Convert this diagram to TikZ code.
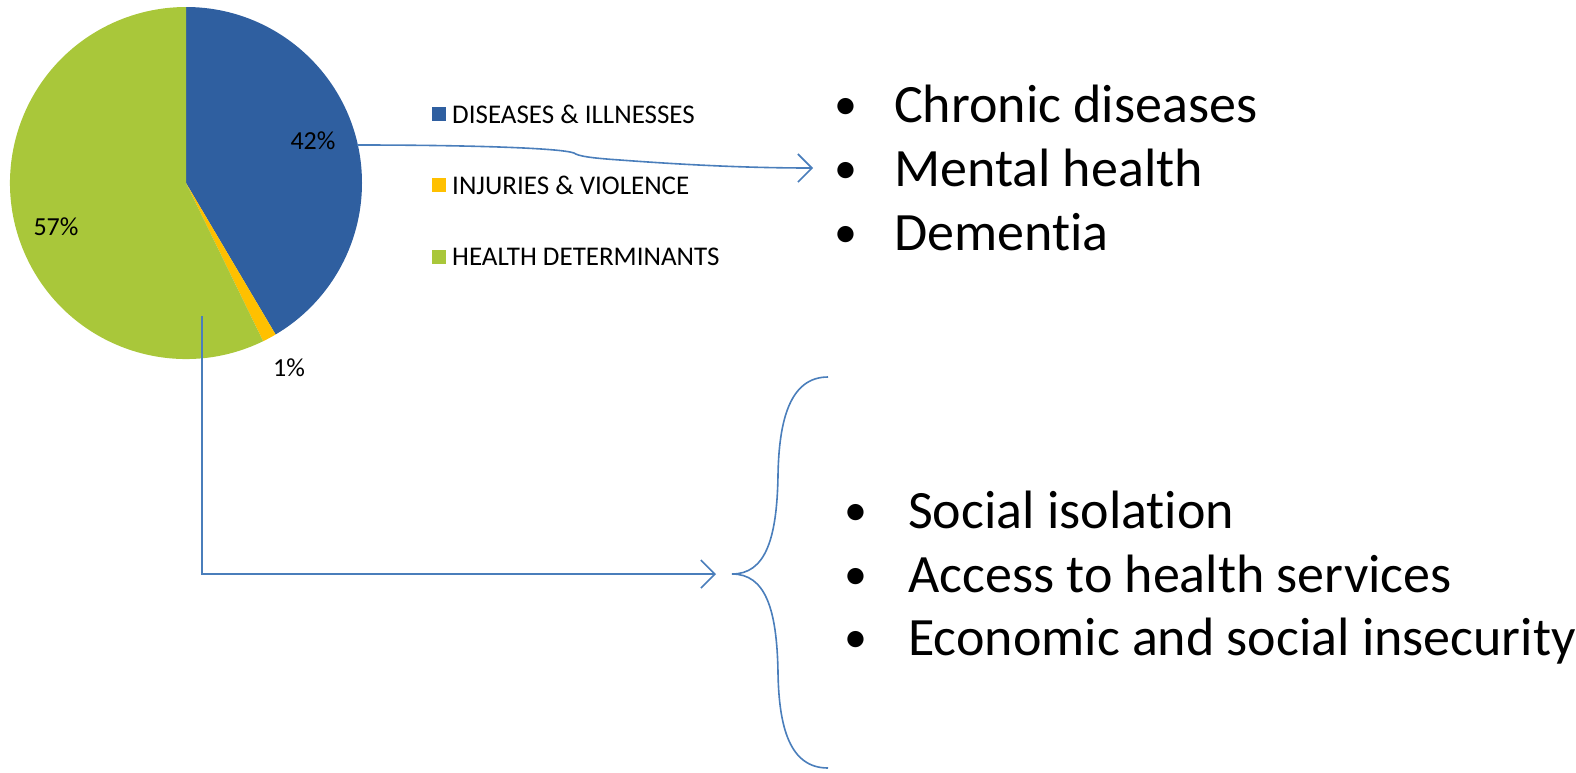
\documentclass[tikz,border=0pt]{standalone}
\usepackage{fontspec}
\setmainfont{Carlito}[Ligatures=NoCommon]
\usetikzlibrary{arrows.meta}
\definecolor{pieblue}{HTML}{2F5FA0}
\definecolor{pieyellow}{HTML}{FFC000}
\definecolor{piegreen}{HTML}{A9C73A}
\definecolor{linkblue}{HTML}{4A7EBB}
\tikzset{
  pct/.style={font=\fontsize{26}{31}\selectfont, inner sep=0pt},
  legtxt/.style={font=\fontsize{27}{32}\selectfont, anchor=west, inner sep=0pt},
  legsq/.style={minimum size=14pt, inner sep=0pt},
  item/.style={font=\fontsize{54}{64}\selectfont, anchor=base west, inner sep=0pt},
  bul/.style={font=\fontsize{46}{54}\selectfont, anchor=base, inner sep=0pt},
  link/.style={draw=linkblue, line width=1.6pt},
  tip/.style={-{Straight Barb[length=14pt, width=28pt, line width=1.6pt]}},
}
\begin{document}
\begin{tikzpicture}[x=1pt, y=-1pt]
\useasboundingbox (0,0) rectangle (1576,772);
% pie
\coordinate (c) at (186,183);
\fill[pieblue] (c) -- +(-90:176) arc[start angle=-90, end angle=59.4, radius=176] -- cycle;
\fill[pieyellow] (c) -- +(59.4:176) arc[start angle=59.4, end angle=64, radius=176] -- cycle;
\fill[piegreen] (c) -- +(64:176) arc[start angle=64, end angle=270, radius=176] -- cycle;
\node[pct] (p42) at (313,141) {42\%};
\node[pct] (p57) at (56,227) {57\%};
\node[pct] (p1) at (289,368) {1\%};
% legend
\node[legsq, fill=pieblue] (s1) at (439,114) {};
\node[legsq, fill=pieyellow] (s2) at (439,185) {};
\node[legsq, fill=piegreen] (s3) at (439,257) {};
\node[legtxt] (l1) at (452,114) {DISEASES \& ILLNESSES};
\node[legtxt] (l2) at (452,185) {INJURIES \& VIOLENCE};
\node[legtxt] (l3) at (452,257) {HEALTH DETERMINANTS};
% top list
\node[bul] (b1) at (846,119) {•};
\node[bul] (b2) at (846,183) {•};
\node[bul] (b3) at (846,247) {•};
\node[item] (t1) at (894,122) {Chronic diseases};
\node[item] (t2) at (894,186) {Mental health};
\node[item] (t3) at (894,250) {Dementia};
% bottom list
\node[bul] (b4) at (856,525) {•};
\node[bul] (b5) at (856,589) {•};
\node[bul] (b6) at (856,652) {•};
\node[item] (t4) at (908,528) {Social isolation};
\node[item] (t5) at (908,592) {Access to health services};
\node[item] (t6) at (908,655) {Economic and social insecurity};
% connectors
\coordinate (a0) at (357,145);
\coordinate (a1) at (813,168);
\draw[link, tip] (a0) .. controls (470,145) and (560,148) .. (574,153)
   .. controls (578,156) and (590,158) .. (620,160)
   .. controls (700,166) and (760,168) .. (a1);
\coordinate (g0) at (202,316);
\coordinate (g1) at (716,574);
\draw[link, tip] (g0) |- (g1);
% brace
\coordinate (bt) at (828,377);
\coordinate (bm) at (732,574);
\coordinate (bb) at (828,768);
\draw[link] (bt) .. controls (790,377) and (779,420) .. (778,475)
   .. controls (777,540) and (765,574) .. (bm)
   .. controls (765,574) and (777,608) .. (778,673)
   .. controls (779,728) and (790,768) .. (bb);
\end{tikzpicture}
\end{document}
